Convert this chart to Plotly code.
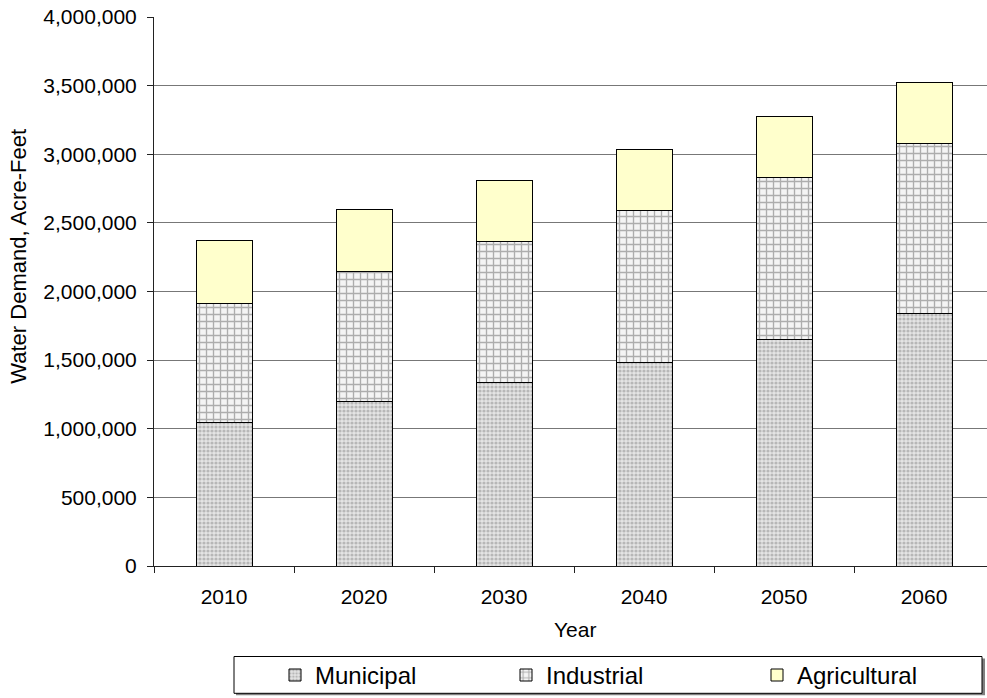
import plotly.graph_objects as go

years = ["2010", "2020", "2030", "2040", "2050", "2060"]
municipal = [1044000, 1195000, 1336000, 1484000, 1653000, 1842000]
industrial_top = [1912000, 2146000, 2366000, 2591000, 2831000, 3079000]
total = [2374000, 2597000, 2812000, 3034000, 3272000, 3520000]
industrial = [t - m for t, m in zip(industrial_top, municipal)]
agricultural = [t - i for t, i in zip(total, industrial_top)]
y_ticks = [0, 500000, 1000000, 1500000, 2000000, 2500000, 3000000, 3500000, 4000000]

FONT = "Liberation Sans, Arial, sans-serif"
W, H = 987, 698
L, T, B = 154, 17, 129
PW = W - L
PH = H - T - B

def px_x(px):
    return (px - L) / PW

def px_y(py):
    return (H - B - py) / PH

fig = go.Figure()
fig.add_trace(go.Bar(
    x=years, y=municipal, name="Municipal", legend="legend",
    marker=dict(color="white", line=dict(color="black", width=1),
                pattern=dict(shape=".", fgcolor="#8a8a8a", bgcolor="#e4e4e4",
                             size=4, solidity=0.5)),
))
fig.add_trace(go.Bar(
    x=years, y=industrial, name="Industrial", legend="legend2",
    marker=dict(color="white", line=dict(color="black", width=1),
                pattern=dict(shape="+", fgcolor="#666666", bgcolor="#f4f4f4",
                             size=7, solidity=0.35)),
))
fig.add_trace(go.Bar(
    x=years, y=agricultural, name="Agricultural", legend="legend3",
    marker=dict(color="#FFFFCC", line=dict(color="black", width=1)),
))

legend_common = dict(orientation="h", yanchor="middle", xanchor="left",
                     bgcolor="rgba(0,0,0,0)", borderwidth=0,
                     font=dict(family=FONT, size=24, color="black"))

fig.update_layout(
    width=W, height=H,
    margin=dict(l=L, r=0, t=T, b=B, pad=0),
    paper_bgcolor="white", plot_bgcolor="white",
    barmode="stack", bargap=0.6,
    font=dict(family=FONT, size=21, color="black"),
    xaxis=dict(type="category", range=[-0.5, 5.45], showgrid=False,
               showline=True, linecolor="#222222", linewidth=1,
               ticks="outside", ticklen=6, tickcolor="#222222", tickson="boundaries",
               ticklabelstandoff=12,
               tickfont=dict(family=FONT, size=21, color="black")),
    yaxis=dict(range=[0, 4000000], tickvals=y_ticks, tickformat=",d",
               showgrid=True, gridcolor="#777777", gridwidth=1,
               showline=True, linecolor="#222222", linewidth=1,
               ticks="outside", ticklen=6, tickcolor="#222222",
               ticklabelstandoff=6,
               tickfont=dict(family=FONT, size=21, color="black"), zeroline=False),
    legend=dict(x=px_x(275), y=px_y(679), **legend_common),
    legend2=dict(x=px_x(506), y=px_y(679), **legend_common),
    legend3=dict(x=px_x(757), y=px_y(679), **legend_common),
    showlegend=True,
    separators=".,",
    shapes=[
        dict(type="rect", xref="paper", yref="paper",
             x0=px_x(236), x1=px_x(985), y0=px_y(699), y1=px_y(662),
             line=dict(width=0), fillcolor="#808080", layer="above"),
        dict(type="rect", xref="paper", yref="paper",
             x0=px_x(234), x1=px_x(982), y0=px_y(697), y1=px_y(660),
             line=dict(color="black", width=1), fillcolor="white", layer="above"),
    ],
    annotations=[
        dict(text="Water Demand, Acre-Feet", xref="paper", yref="paper",
             x=px_x(19), y=px_y(258), textangle=-90, showarrow=False,
             xanchor="center", yanchor="middle",
             font=dict(family=FONT, size=22, color="black")),
        dict(text="Year", xref="paper", yref="paper",
             x=px_x(575), y=px_y(633), showarrow=False,
             xanchor="center", yanchor="middle",
             font=dict(family=FONT, size=21, color="black")),
    ],
)

fig.write_html("out.html", config={"displayModeBar": False},
               post_script="document.body.style.margin='0px';")
